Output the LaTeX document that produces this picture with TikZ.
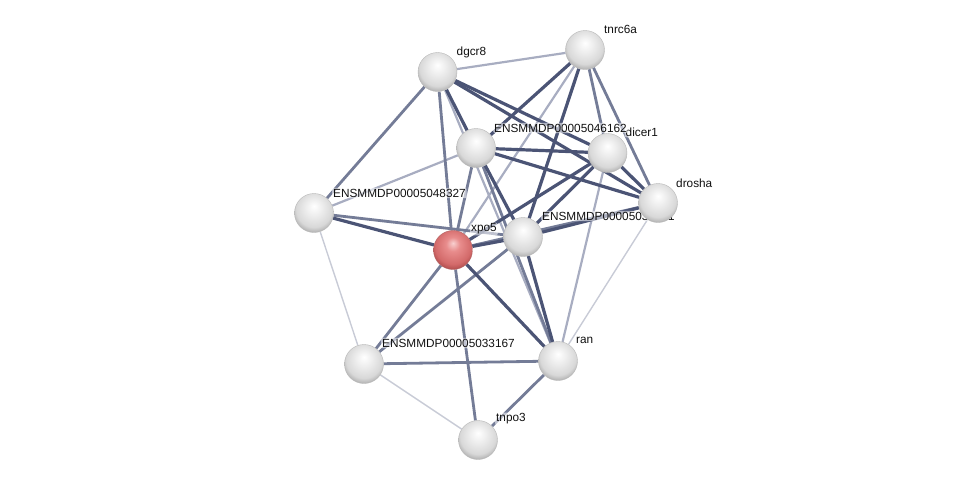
\documentclass[tikz,border=0pt]{standalone}
\usepackage{fontspec}
\setmainfont{Liberation Sans}
\usetikzlibrary{calc}
\definecolor{ppink}{HTML}{111111}
\definecolor{ppstrong}{HTML}{4B5475}
\definecolor{ppmid}{HTML}{747C97}
\definecolor{pplight}{HTML}{A8ADC1}
\definecolor{ppfaint}{HTML}{C8CBD6}
\definecolor{ppgreyA}{HTML}{FFFFFF}
\definecolor{ppgreyB}{HTML}{F0F0F0}
\definecolor{ppgreyC}{HTML}{D8D8D8}
\definecolor{ppgreyD}{HTML}{9C9C9C}
\definecolor{ppredA}{HTML}{F8D0D0}
\definecolor{ppredB}{HTML}{E88C8C}
\definecolor{ppredC}{HTML}{D36A6A}
\definecolor{ppredD}{HTML}{9E3E3E}
\pgfdeclareradialshading{ppgrey}{\pgfpoint{0bp}{9bp}}{color(0bp)=(ppgreyA); color(9bp)=(ppgreyB); color(23bp)=(ppgreyC); color(32bp)=(ppgreyD); color(50bp)=(ppgreyD)}
\pgfdeclareradialshading{ppred}{\pgfpoint{0bp}{9bp}}{color(0bp)=(ppredA); color(9bp)=(ppredB); color(23bp)=(ppredC); color(32bp)=(ppredD); color(50bp)=(ppredD)}
\pgfdeclarelayer{edges}
\pgfsetlayers{edges,main}
\tikzset{
  pp text/.style={font=\fontsize{11.8}{13}\selectfont, text=ppink},
  pp ball/.style={circle, minimum size=39pt, inner sep=0pt, shading=ppgrey,
    draw=black!28, line width=0.4pt},
  pp query/.style={pp ball, shading=ppred, draw=ppredD!80},
  pp label/.style={anchor=west, inner sep=1pt, fill=white, fill opacity=0.55,
    text opacity=1, rounded corners=2pt},
  pp strong/.style={draw=ppstrong, line width=3.2pt},
  pp mid/.style={draw=ppmid, line width=2.8pt},
  pp light/.style={draw=pplight, line width=2.2pt},
  pp faint/.style={draw=ppfaint, line width=1.4pt}
}
\begin{document}
\begin{tikzpicture}[pp text, x=1pt, y=-1pt]
  \useasboundingbox (0,0) rectangle (976,485);
  % proteins
  \node[pp ball] (tnrc6a) at (585,50) {};
  \node[pp label] (tnrc6a-lbl) at ($(tnrc6a)+(18,-21)$) {tnrc6a};
  \node[pp ball] (dgcr8) at (437.5,72) {};
  \node[pp label] (dgcr8-lbl) at ($(dgcr8)+(18,-20)$) {dgcr8};
  \node[pp ball] (ens48327) at (314,213) {};
  \node[pp label] (ens48327-lbl) at ($(ens48327)+(18,-20)$) {ENSMMDP00005048327};
  \node[pp query] (xpo5) at (453,250) {};
  \node[pp label] (xpo5-lbl) at ($(xpo5)+(17,-21)$) {xpo5};
  \node[pp ball] (ens33167) at (364,364) {};
  \node[pp label] (ens33167-lbl) at ($(ens33167)+(17,-21)$) {ENSMMDP00005033167};
  \node[pp ball] (ran) at (558,361) {};
  \node[pp label] (ran-lbl) at ($(ran)+(17,-21)$) {ran};
  \node[pp ball] (tnpo3) at (478,440) {};
  \node[pp label] (tnpo3-lbl) at ($(tnpo3)+(17,-21)$) {tnpo3};
  \node[pp ball] (ens50x) at (523,237) {};
  \node[pp label] (ens50x-lbl) at ($(ens50x)+(18,-21)$) {ENSMMDP00005030621};
  \node[pp ball] (drosha) at (658,203) {};
  \node[pp label] (drosha-lbl) at ($(drosha)+(17,-20)$) {drosha};
  \node[pp ball] (dicer1) at (607.5,153) {};
  \node[pp label] (dicer1-lbl) at ($(dicer1)+(17,-21)$) {dicer1};
  \node[pp ball] (ens46162) at (476,148) {};
  \node[pp label] (ens46162-lbl) at ($(ens46162)+(17,-20)$) {ENSMMDP00005046162};
  % interactions
  \begin{pgfonlayer}{edges}
    \foreach \a/\b in {ens48327/ens33167, ens33167/tnpo3, drosha/ran}
      \draw[pp faint] (\a) -- (\b);
    \foreach \a/\b in {dgcr8/tnrc6a, ens46162/ens48327, tnrc6a/xpo5, dicer1/ran, dgcr8/ran}
      \draw[pp light] (\a) -- (\b);
    \foreach \a/\b in {dgcr8/ens48327, dgcr8/xpo5, tnrc6a/dicer1, tnrc6a/drosha,
        ens46162/xpo5, ens46162/ran, ens48327/ens50x, xpo5/drosha, xpo5/ens33167,
        xpo5/tnpo3, ens50x/ens33167, ens33167/ran, tnpo3/ran}
      \draw[pp mid] (\a) -- (\b);
    \foreach \a/\b in {dgcr8/ens46162, dgcr8/dicer1, dgcr8/drosha, tnrc6a/ens46162,
        tnrc6a/ens50x, ens46162/dicer1, ens46162/drosha, ens46162/ens50x,
        ens48327/xpo5, xpo5/ens50x, xpo5/dicer1, xpo5/ran, ens50x/dicer1,
        ens50x/drosha, ens50x/ran, dicer1/drosha}
      \draw[pp strong] (\a) -- (\b);
  \end{pgfonlayer}
\end{tikzpicture}
\end{document}
